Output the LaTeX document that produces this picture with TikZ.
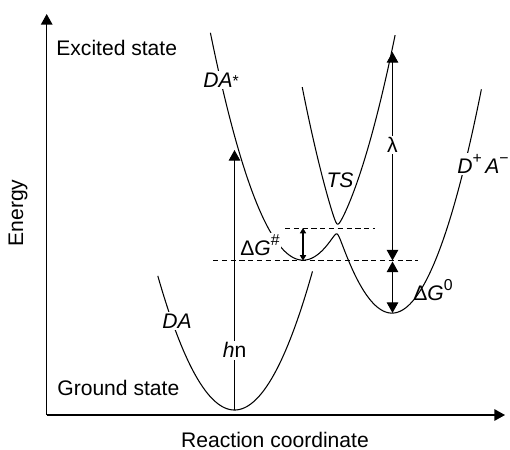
\documentclass[tikz,border=0pt]{standalone}
\usepackage{fontspec}
\setmainfont{Liberation Sans}
\usepackage{tikz}
\usetikzlibrary{arrows.meta}
\newcommand{\upidx}[2][0.85ex]{\raisebox{#1}{\fontsize{9}{9}\selectfont #2}}

\begin{document}
\begin{tikzpicture}[x=0.2cm,y=-0.2cm,>={Triangle[width=6.5pt,length=6pt]},
		font=\fontsize{12}{14}\selectfont,
		curve/.style={line width=0.6pt},
		lbl/.style={fill=white,inner sep=1pt},
		declare function={
			ea(\x)=26-0.265*(\x-30.3)^2;
			eb(\x)=31.3-0.28*(\x-39.2)^2;
			gap(\x)=sqrt(((ea(\x)-eb(\x))/2)^2+0.25);
			lo(\x)=(ea(\x)+eb(\x))/2+gap(\x);
			hi(\x)=(ea(\x)+eb(\x))/2-gap(\x);
			gs(\x)=41.0-0.228*(\x-23.45)^2;}]
		
		\useasboundingbox (0,0) rectangle (51,44.9);
		
		% Axes
		\coordinate (org) at (4.67,41.5);
		\coordinate (ytip) at (4.67,1.4);
		\coordinate (xtip) at (50.5,41.5);
		\draw[line width=0.7pt,->] (org) -- (ytip);
		\draw[line width=0.7pt,->] (org) -- (xtip);
		\node[rotate=90] (ener) at (1.8,21.3) {Energy};
		\node[anchor=base,inner sep=0pt] (rc) at (27.5,44.7) {Reaction coordinate};
		\node[anchor=west,inner sep=0pt] (exc) at (5.6,4.75) {Excited state};
		\node[anchor=west,inner sep=0pt] (gnd) at (5.7,38.8) {Ground state};
		
		% Ground state well
		\draw[curve] plot[domain=15.78:31.25,samples=120] (\x,{gs(\x)});
		
		% Lower and upper excited surfaces (avoided crossing)
		\draw[curve] plot[domain=21.04:48.14,samples=260] (\x,{lo(\x)});
		\draw[curve] plot[domain=30.22:39.51,samples=200] (\x,{hi(\x)});
		
		% Levels
		\draw[dash pattern=on 3pt off 2pt] (28.5,22.8) -- (37.5,22.8);
		\draw[dash pattern=on 3pt off 2pt] (21.3,26.05) -- (41.8,26.05);
		
		% Arrows
		\coordinate (hv0) at (23.45,41.0);
		\coordinate (hv1) at (23.45,15.0);
		\draw[line width=0.6pt,->] (hv0) -- (hv1)
			node[lbl,pos=0.23] (hvl) {\textit{h}n};
		\coordinate (lam0) at (39.25,26.05);
		\coordinate (lam1) at (39.25,5.2);
		\draw[line width=0.6pt,<->] (lam0) -- (lam1)
			node[lbl,pos=0.554] (laml) {λ};
		\coordinate (dg0) at (39.25,26.15);
		\coordinate (dg1) at (39.25,31.3);
		\draw[line width=0.6pt,<->] (dg0) -- (dg1);
		\coordinate (dgh0) at (30.3,22.8);
		\coordinate (dgh1) at (30.3,26.05);
		\draw[line width=0.6pt,{Triangle[width=3.5pt,length=3pt]}-{Triangle[width=3.5pt,length=3pt]}] (dgh0) -- (dgh1);
		
		% Curve labels
		\node[lbl] (das) at (22.1,8.0) {\textit{DA}\upidx[0.1ex]{*}};
		\node[lbl] (da) at (17.7,32.1) {\textit{DA}};
		\node (ts) at (34.0,18.0) {\textit{TS}};
		\node[lbl] (dpam) at (48.3,16.4) {\textit{D}\upidx{+}\,\textit{A}\upidx{−}};
		\node[lbl] (dgs) at (26.0,24.5) {Δ\textit{G}\upidx{\#}};
		\node (dgz) at (43.3,29.0) {Δ\textit{G}\upidx{0}};
		
	\end{tikzpicture}
\end{document}
